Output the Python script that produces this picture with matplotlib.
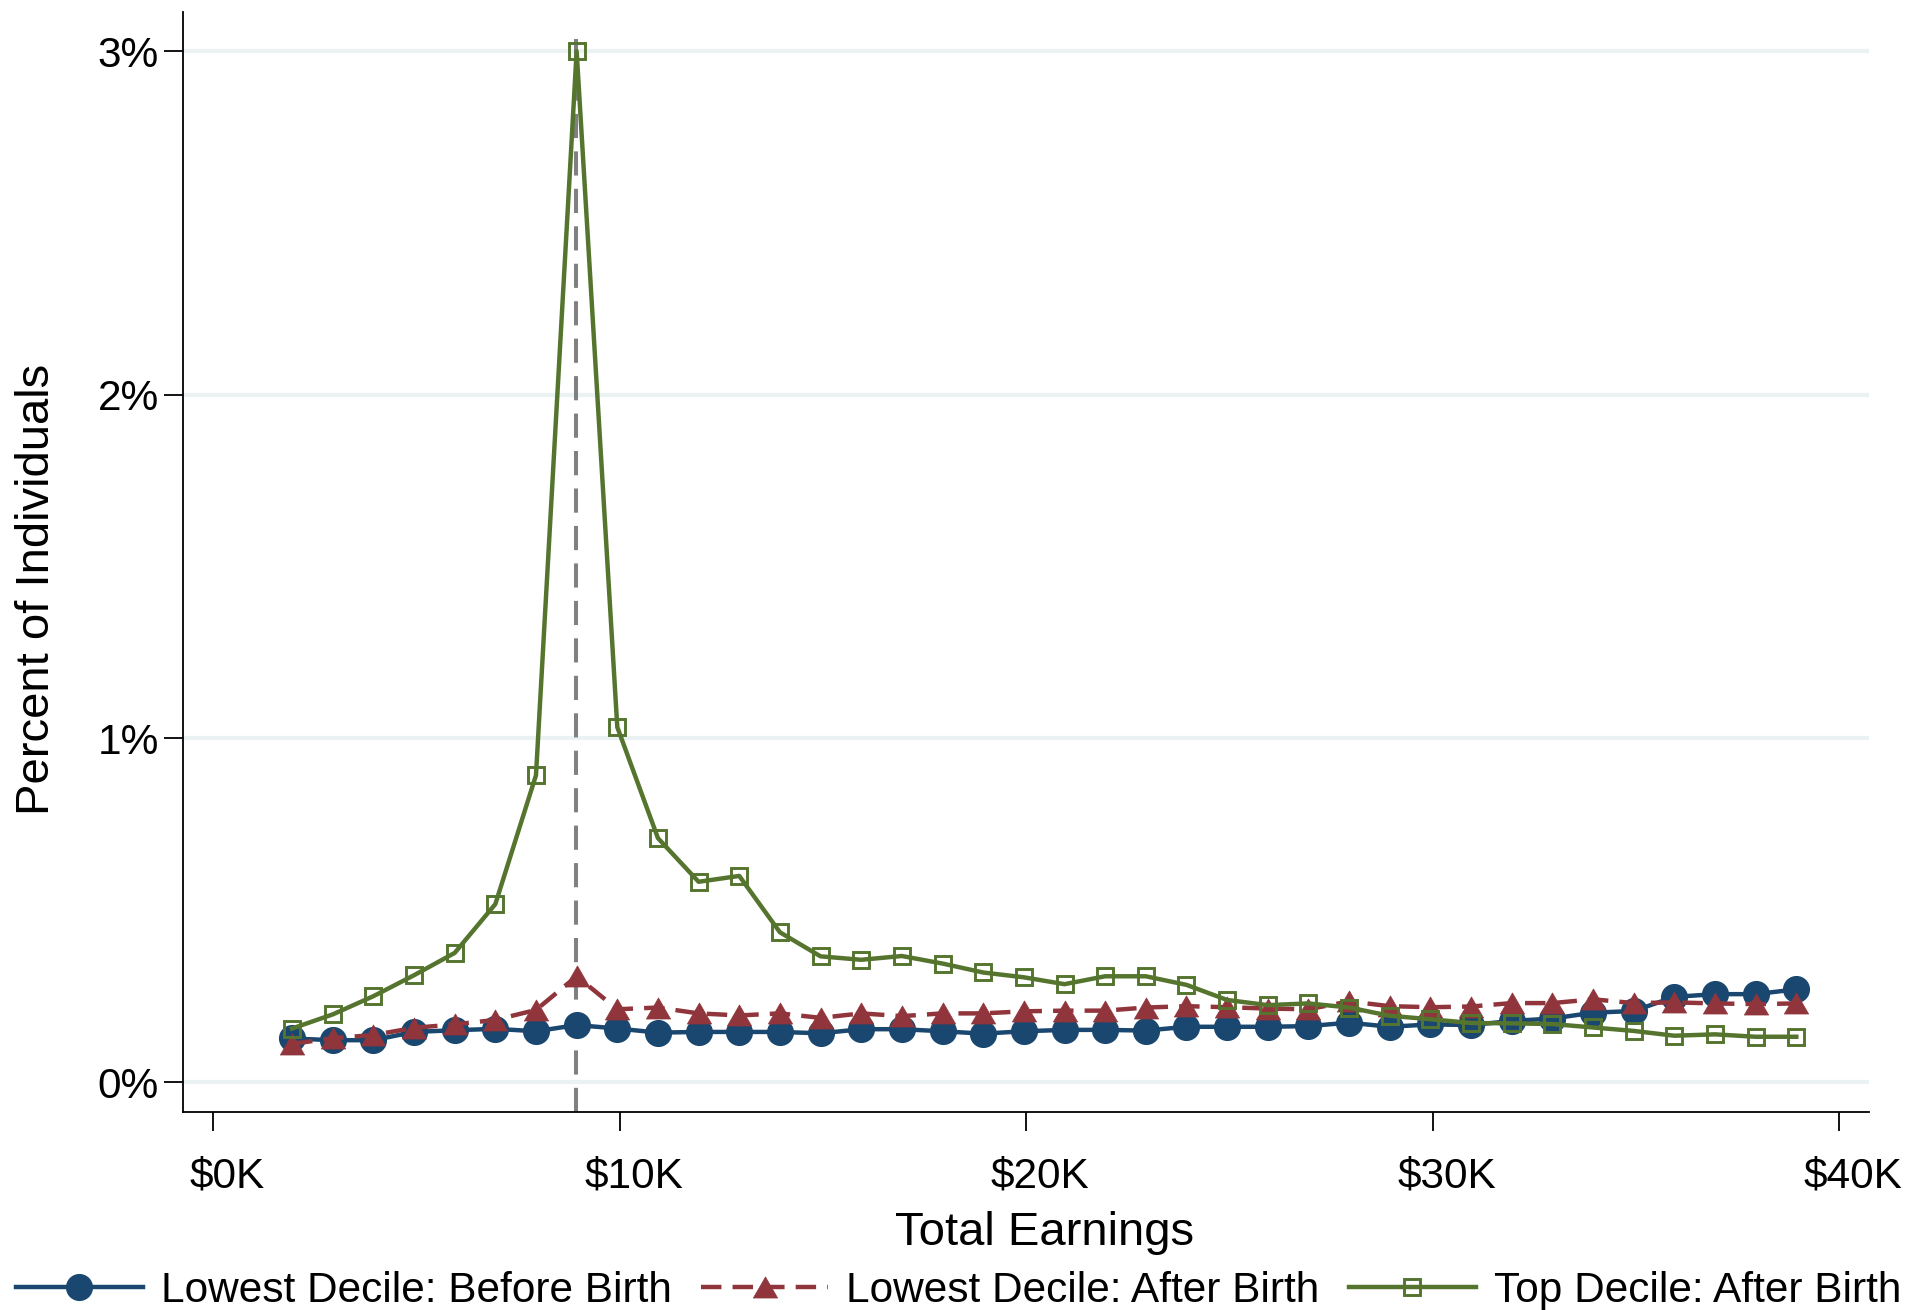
import numpy as np
import matplotlib
matplotlib.use("Agg")
import matplotlib.pyplot as plt
import matplotlib.transforms as mtransforms
from matplotlib.path import Path

plt.rcParams['font.family'] = ['Liberation Sans', 'DejaVu Sans']

# earnings bins ($K)
earnings = [1.94, 2.94, 3.94, 4.94, 5.94, 6.94, 7.94, 8.94, 9.94, 10.94,
            11.94, 12.94, 13.94, 14.94, 15.94, 16.94, 17.94, 18.94, 19.94, 20.94,
            21.94, 22.94, 23.94, 24.94, 25.94, 26.94, 27.94, 28.94, 29.94, 30.94,
            31.94, 32.94, 33.94, 34.94, 35.94, 36.94, 37.94, 38.94]
kink = 8.93

# percent of individuals in each bin
low_before = [0.127, 0.122, 0.122, 0.146, 0.151, 0.155, 0.148, 0.166, 0.156, 0.144,
              0.146, 0.146, 0.146, 0.142, 0.154, 0.154, 0.148, 0.141, 0.148, 0.152,
              0.152, 0.150, 0.161, 0.161, 0.161, 0.163, 0.173, 0.161, 0.168, 0.166,
              0.178, 0.185, 0.202, 0.207, 0.248, 0.256, 0.256, 0.270]
low_after = [0.111, 0.128, 0.137, 0.158, 0.168, 0.181, 0.210, 0.308, 0.212, 0.217,
             0.200, 0.194, 0.200, 0.187, 0.200, 0.192, 0.200, 0.200, 0.206, 0.208,
             0.208, 0.217, 0.221, 0.218, 0.214, 0.212, 0.235, 0.221, 0.218, 0.220,
             0.230, 0.230, 0.241, 0.230, 0.232, 0.229, 0.227, 0.229]
top_after = [0.156, 0.197, 0.250, 0.311, 0.376, 0.518, 0.893, 3.000, 1.033, 0.710,
             0.583, 0.600, 0.436, 0.366, 0.356, 0.367, 0.345, 0.319, 0.305, 0.285,
             0.308, 0.308, 0.283, 0.239, 0.224, 0.229, 0.217, 0.193, 0.183, 0.172,
             0.171, 0.169, 0.159, 0.149, 0.135, 0.139, 0.132, 0.132]

x_ticks = [0, 10, 20, 30, 40]
x_labels = ['\\$0K', '\\$10K', '\\$20K', '\\$30K', '\\$40K']
y_ticks = [0, 1, 2, 3]
y_labels = ['0%', '1%', '2%', '3%']

navy = '#1a476f'
maroon = '#90353b'
forest = '#55752f'

# equilateral triangle marker
tri = Path([(0, 0.433), (-0.5, -0.433), (0.5, -0.433), (0, 0.433)],
           [Path.MOVETO, Path.LINETO, Path.LINETO, Path.CLOSEPOLY])

fig = plt.figure(figsize=(19.17, 13.10), dpi=100)
ax = fig.add_axes([0.0953, 0.1514, 0.8797, 0.8394])

for yv in y_ticks:
    ax.axhline(yv, color='#eaf2f3', lw=3, zorder=0)

ax.axvline(kink, ymax=0.987, color='#808080', lw=2.9, dashes=(6, 3.3), zorder=1)

ax.plot(earnings, low_before, color=navy, lw=3.2, marker='o', markersize=18.5,
        markeredgecolor=navy, label='Lowest Decile: Before Birth', zorder=2)
ax.plot(earnings, low_after, color=maroon, lw=3.2, dashes=(4.6, 2.5), marker=tri,
        markersize=17.5, markeredgewidth=0.5, markeredgecolor=maroon,
        label='Lowest Decile: After Birth', zorder=3)
ax.plot(earnings, top_after, color=forest, lw=3.2, marker='s', markersize=12,
        markerfacecolor='none', markeredgewidth=2.1, markeredgecolor=forest,
        label='Top Decile: After Birth', zorder=4)

ax.set_xlim(-0.75, 40.73)
ax.set_ylim(-0.086, 3.114)
ax.set_xticks(x_ticks)
ax.set_xticklabels(x_labels)
ax.set_yticks(y_ticks)
ax.set_yticklabels(y_labels)
ax.tick_params(axis='both', direction='out', length=14, width=1.3, labelsize=30.5)
ax.tick_params(axis='x', pad=18)
ax.tick_params(axis='y', pad=3)

# x tick labels sit a little right of their ticks
shift = mtransforms.ScaledTranslation(0.14, 0, fig.dpi_scale_trans)
for lbl in ax.get_xticklabels():
    lbl.set_transform(lbl.get_transform() + shift)

for side in ['top', 'right']:
    ax.spines[side].set_visible(False)
for side in ['left', 'bottom']:
    ax.spines[side].set_linewidth(1.3)

fig.text(0.545, 0.0590, 'Total Earnings', fontsize=34, ha='center', va='center')
fig.text(0.0193, 0.5504, 'Percent of Individuals', fontsize=34, rotation=90,
         ha='center', va='center')

fig.legend(loc='center', bbox_to_anchor=(0.5, 0.0148), ncol=3, frameon=False,
           fontsize=30.5, handlelength=3.0, handletextpad=0.43, columnspacing=0.69,
           borderaxespad=0, borderpad=0)

fig.savefig('out.png', dpi=100, facecolor='white')
